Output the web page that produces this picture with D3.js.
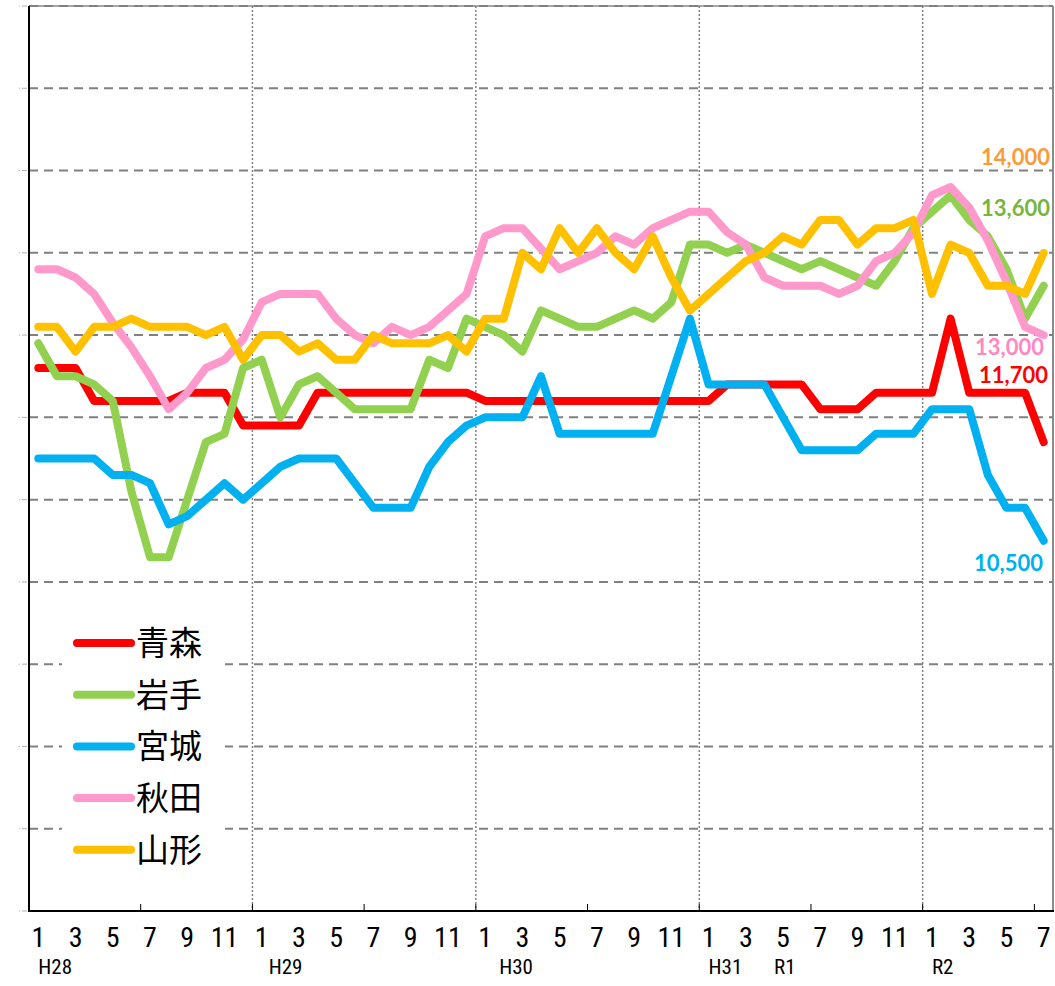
<!DOCTYPE html>
<html>
<head>
<meta charset="utf-8">
<script src="https://cdnjs.cloudflare.com/ajax/libs/d3/7.8.5/d3.min.js"></script>
<style>
  body { margin: 0; background: #fff; }
  svg { display: block; }
</style>
</head>
<body>
<svg width="1055" height="986"></svg>
<script>
// months from H28.1 to R2.7
var months = [
  "1","2","3","4","5","6","7","8","9","10","11","12",
  "1","2","3","4","5","6","7","8","9","10","11","12",
  "1","2","3","4","5","6","7","8","9","10","11","12",
  "1","2","3","4","5","6","7","8","9","10","11","12",
  "1","2","3","4","5","6","7"
];
var eras = ["H28", "H29", "H30", "H31", "R1", "R2"];
var eraStart = [0, 12, 24, 36, 40, 48];

var prefs = ["青森", "岩手", "宮城", "秋田", "山形"];

var aomori = [12600,12600,12600,12200,12200,12200,12200,12200,12300,12300,
  12300,11900,11900,11900,11900,12300,12300,12300,12300,12300,
  12300,12300,12300,12300,12200,12200,12200,12200,12200,12200,
  12200,12200,12200,12200,12200,12200,12200,12400,12400,12400,
  12400,12400,12100,12100,12100,12300,12300,12300,12300,13200,
  12300,12300,12300,12300,11700];

var iwate = [12900,12500,12500,12400,12200,11100,10300,10300,11000,11700,
  11800,12600,12700,12000,12400,12500,12300,12100,12100,12100,
  12100,12700,12600,13200,13100,13000,12800,13300,13200,13100,
  13100,13200,13300,13200,13400,14100,14100,14000,14100,14000,
  13900,13800,13900,13800,13700,13600,13900,14300,14500,14700,
  14400,14200,13800,13200,13600];

var miyagi = [11500,11500,11500,11500,11300,11300,11200,10700,10800,11000,
  11200,11000,11200,11400,11500,11500,11500,11200,10900,10900,
  10900,11400,11700,11900,12000,12000,12000,12500,11800,11800,
  11800,11800,11800,11800,12500,13200,12400,12400,12400,12400,
  12000,11600,11600,11600,11600,11800,11800,11800,12100,12100,
  12100,11300,10900,10900,10500];

var akita = [13800,13800,13700,13500,13150,12850,12500,12100,12300,12600,
  12700,12950,13400,13500,13500,13500,13200,13000,12900,13100,
  13000,13100,13300,13500,14200,14300,14300,14050,13800,13900,
  14000,14200,14100,14300,14400,14500,14500,14250,14100,13700,
  13600,13600,13600,13500,13600,13900,14000,14250,14700,14800,
  14550,14150,13650,13100,13000];

var yamagata = [13100,13100,12800,13100,13100,13200,13100,13100,13100,13000,
  13100,12700,13000,13000,12800,12900,12700,12700,13000,12900,
  12900,12900,13000,12800,13200,13200,14000,13800,14300,14000,
  14300,14000,13800,14200,13700,13300,13500,13700,13900,14000,
  14200,14100,14400,14400,14100,14300,14300,14400,13500,14100,
  14000,13600,13600,13500,14000];

var yTicks = [6000,7000,8000,9000,10000,11000,12000,13000,14000,15000,16000,17000];

// styles
var lineColors = ["#FF0000", "#92D050", "#00B0F0", "#FF99CC", "#FFC000"];
var labelColors = ["#FF0000", "#77B541", "#00B0F0", "#FF88C2", "#F99B3A"];
var labelShift = [[-5, -59], [-3, -70], [-10, 30], [-9, 20], [-3, -88]];
var eraShift = [0, 7, 14, 0, -9, 0];

window.onload = function() {
  var svg = d3.select("svg");
  var left = 29, right = 1053, top = 6, bottom = 911;

  var series = [aomori, iwate, miyagi, akita, yamagata];

  var x = d3.scaleBand()
      .domain(d3.range(months.length))
      .range([left, right]);
  var cx = function(i) { return x(i) + x.bandwidth() / 2; };

  var y = d3.scaleLinear()
      .domain([6000, 17000])
      .range([bottom, top]);

  // frame top / right
  svg.append("line")
    .attr("x1", left).attr("x2", right)
    .attr("y1", top).attr("y2", top)
    .attr("stroke", "#a6a6a6").attr("stroke-width", 2);
  svg.append("line")
    .attr("x1", right).attr("x2", right)
    .attr("y1", top).attr("y2", bottom)
    .attr("stroke", "#8c8c8c").attr("stroke-width", 2);

  // horizontal dashed grid
  svg.append("g")
    .selectAll("line")
    .data(yTicks.slice(1))
    .enter().append("line")
      .attr("x1", left).attr("x2", right)
      .attr("y1", function(d) { return y(d); })
      .attr("y2", function(d) { return y(d); })
      .attr("stroke", "#808080")
      .attr("stroke-width", 2)
      .attr("stroke-dasharray", "9,6");

  // tiny marks where the y labels would be
  svg.append("g")
    .selectAll("line")
    .data(yTicks)
    .enter().append("line")
      .attr("x1", 19).attr("x2", 27)
      .attr("y1", function(d) { return y(d); })
      .attr("y2", function(d) { return y(d); })
      .attr("stroke", "#b0b0b0")
      .attr("stroke-width", 1)
      .attr("stroke-dasharray", "1,2,5");

  // year dividers (dotted)
  svg.append("g")
    .selectAll("line")
    .data(eraStart.filter(function(d) { return d % 12 == 0 && d > 0; }))
    .enter().append("line")
      .attr("x1", function(d) { return x(d); })
      .attr("x2", function(d) { return x(d); })
      .attr("y1", top).attr("y2", bottom)
      .attr("stroke", "#808080")
      .attr("stroke-width", 1.5)
      .attr("stroke-dasharray", "2,2");

  // legend box hides grid
  svg.append("rect")
    .attr("x", 62).attr("y", 605)
    .attr("width", 163).attr("height", 280)
    .attr("fill", "#fff");

  // lines
  var line = d3.line()
    .x(function(d, i) { return cx(i); })
    .y(function(d) { return y(d); });

  svg.append("g")
    .selectAll("path")
    .data(series)
    .enter().append("path")
      .attr("d", line)
      .attr("fill", "none")
      .attr("stroke", function(d, i) { return lineColors[i]; })
      .attr("stroke-width", 8)
      .attr("stroke-linejoin", "round")
      .attr("stroke-linecap", "round");

  // end labels
  var fmt = d3.format(",");
  svg.append("g")
    .selectAll("text")
    .data(series)
    .enter().append("text")
      .attr("x", function(d, i) { return right + labelShift[i][0]; })
      .attr("y", function(d, i) { return y(d[d.length - 1]) + labelShift[i][1]; })
      .attr("text-anchor", "end")
      .attr("font-family", "Lato, 'Open Sans', sans-serif")
      .attr("font-weight", "bold")
      .attr("font-size", 22)
      .attr("fill", function(d, i) { return labelColors[i]; })
      .text(function(d) { return fmt(d[d.length - 1]); });

  // axes lines
  svg.append("line")
    .attr("x1", left).attr("x2", left)
    .attr("y1", top).attr("y2", bottom + 1)
    .attr("stroke", "#000").attr("stroke-width", 2);
  svg.append("line")
    .attr("x1", left).attr("x2", right + 1)
    .attr("y1", bottom).attr("y2", bottom)
    .attr("stroke", "#000").attr("stroke-width", 2);

  // ticks every 6 months
  svg.append("g")
    .selectAll("line")
    .data(d3.range(6, months.length, 6))
    .enter().append("line")
      .attr("x1", function(d) { return x(d); })
      .attr("x2", function(d) { return x(d); })
      .attr("y1", bottom).attr("y2", bottom - 7)
      .attr("stroke", "#000").attr("stroke-width", 1);

  // month labels (odd months)
  var axisFont = "'Liberation Sans Narrow', 'Roboto Condensed', 'DejaVu Sans Condensed', sans-serif";
  svg.append("g")
    .selectAll("text")
    .data(months)
    .enter().filter(function(d) { return +d % 2 == 1; })
    .append("text")
      .attr("x", function(d, i) { return cx(i * 2); })
      .attr("y", 947)
      .attr("text-anchor", "middle")
      .attr("font-family", axisFont)
      .attr("font-size", 28)
      .attr("fill", "#000")
      .text(function(d) { return d; });

  svg.append("g")
    .selectAll("text")
    .data(eras)
    .enter().append("text")
      .attr("x", function(d, i) { return cx(eraStart[i]) + eraShift[i]; })
      .attr("y", 974)
      .attr("font-family", axisFont)
      .attr("font-size", 21)
      .attr("fill", "#000")
      .text(function(d) { return d; });

  // legend
  var legend = svg.append("g")
    .selectAll("g")
    .data(prefs)
    .enter().append("g")
      .attr("transform", function(d, i) { return "translate(0," + (643 + i * 51.7) + ")"; });

  legend.append("line")
    .attr("x1", 77).attr("x2", 131)
    .attr("stroke", function(d, i) { return lineColors[i]; })
    .attr("stroke-width", 8)
    .attr("stroke-linecap", "round");

  legend.append("text")
    .attr("x", 136)
    .attr("y", 0)
    .attr("dy", "0.36em")
    .attr("font-family", "'Noto Sans CJK JP', sans-serif")
    .attr("font-size", 33)
    .attr("fill", "#000")
    .text(function(d) { return d; });
};
</script>
</body>
</html>
